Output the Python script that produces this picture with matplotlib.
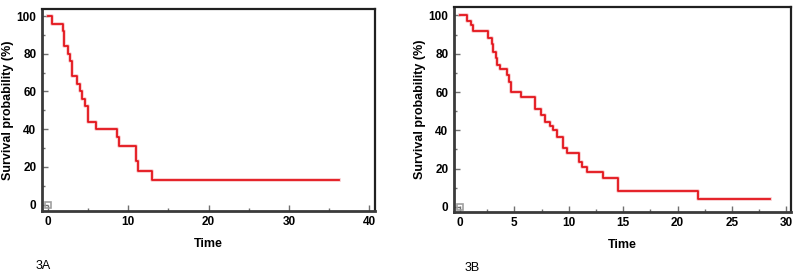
import matplotlib
matplotlib.use("Agg")
import matplotlib.pyplot as plt
from matplotlib.ticker import MultipleLocator

plt.rcParams['font.family'] = ['Liberation Sans', 'DejaVu Sans']

# panel 3A: Kaplan-Meier steps (time of drop, survival after drop)
time_a = [0, 0.5, 1.85, 2.0, 2.5, 2.75, 2.95, 3.55, 3.95, 4.25, 4.6, 4.95,
          5.95, 8.65, 8.8, 10.95, 11.2, 13.0, 36.2]
surv_a = [100, 96, 92, 84, 80, 76, 68, 64, 60, 56, 52, 44,
          40, 36, 31, 23, 18, 13.2, 13.2]

# panel 3B
time_b = [0, 0.67, 0.98, 1.22, 2.6, 2.9, 3.05, 3.28, 3.42, 3.67, 4.34, 4.5,
          4.65, 5.57, 6.88, 7.4, 7.8, 8.26, 8.56, 8.95, 9.5, 9.8, 10.9, 11.2,
          11.7, 13.15, 14.5, 21.9, 28.5]
surv_b = [100, 97, 95, 92, 88, 85, 81, 78, 74, 72, 69, 65,
          60, 57.5, 51, 48, 44.5, 42, 40, 36.5, 30.6, 28, 23.6, 21,
          18.4, 15, 8.5, 4.0, 4.0]

panels = [
    dict(t=time_a, s=surv_a, rect=[0.0525, 0.242, 0.416, 0.7255],
         xlim=(-0.75, 40.7), ylim=(-3.3, 103.7), major=10, minor=5,
         tag="3A", tag_xy=(0.044, 0.032)),
    dict(t=time_b, s=surv_b, rect=[0.5675, 0.2385, 0.421, 0.735],
         xlim=(-0.55, 30.4), ylim=(-2.5, 104.2), major=5, minor=2.5,
         tag="3B", tag_xy=(0.581, 0.026)),
]

fig = plt.figure(figsize=(8, 2.78), dpi=100)
red = '#e3141b'

for p in panels:
    ax = fig.add_axes(p["rect"])
    ax.step(p["t"], p["s"], where='post', color='#f4a0a4', lw=2.6, alpha=0.6)
    ax.step(p["t"], p["s"], where='post', color=red, lw=1.3)
    ax.plot([0], [0], marker='s', ms=5, mfc='none', mec='#a0a0a0', mew=1.2)
    ax.set_xlim(*p["xlim"])
    ax.set_ylim(*p["ylim"])
    ax.xaxis.set_major_locator(MultipleLocator(p["major"]))
    ax.xaxis.set_minor_locator(MultipleLocator(p["minor"]))
    ax.yaxis.set_major_locator(MultipleLocator(20))
    ax.yaxis.set_minor_locator(MultipleLocator(10))
    ax.tick_params(which='both', direction='in', color='#707070', width=1.0)
    ax.tick_params(which='major', length=4, labelsize=8.5, pad=4)
    ax.tick_params(which='minor', length=2.5)
    for lab in ax.get_xticklabels() + ax.get_yticklabels():
        lab.set_fontweight('bold')
    for side in ['left', 'bottom']:
        ax.spines[side].set_linewidth(2.0)
        ax.spines[side].set_color('#3a3a3a')
    for side in ['top', 'right']:
        ax.spines[side].set_linewidth(1.6)
        ax.spines[side].set_color('#202020')
    ax.set_xlabel('Time', fontsize=9, fontweight='bold', labelpad=7)
    ax.set_ylabel('Survival probability (%)', fontsize=9, fontweight='bold', labelpad=2)
    fig.text(p["tag_xy"][0], p["tag_xy"][1], p["tag"], fontsize=9)

fig.savefig('out.png', dpi=100)
